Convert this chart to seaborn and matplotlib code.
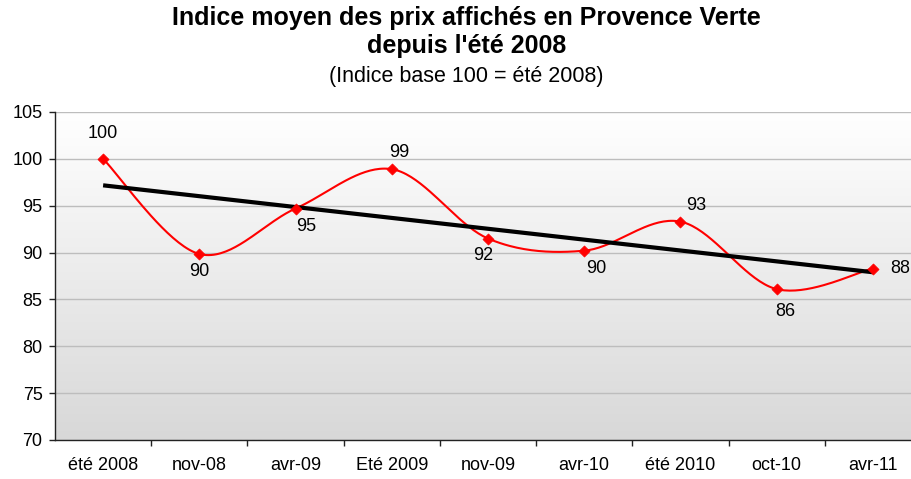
import numpy as np
import pandas as pd
import matplotlib
matplotlib.use("Agg")
import matplotlib.pyplot as plt
import seaborn as sns
from matplotlib.colors import LinearSegmentedColormap
from matplotlib.ticker import FixedLocator

# ---- data ----
categories = ["été 2008", "nov-08", "avr-09", "Eté 2009", "nov-09",
              "avr-10", "été 2010", "oct-10", "avr-11"]
indice = [100.0, 89.85, 94.7, 98.9, 91.5, 90.2, 93.3, 86.1, 88.3]
value_labels = ["100", "90", "95", "99", "92", "90", "93", "86", "88"]
yticks = [70, 75, 80, 85, 90, 95, 100, 105]

# label offsets in pixels (dx, dy up)
label_offsets = [(0, 25), (0, -18), (11, -18), (7, 17), (-5, -17),
                 (12, -18), (16, 16), (9, -22), (27, 0)]

sns.set_theme(style="white")
plt.rcParams['font.family'] = ['Liberation Sans', 'DejaVu Sans']
plt.rcParams['text.color'] = 'black'
plt.rcParams['xtick.color'] = 'black'
plt.rcParams['ytick.color'] = 'black'

fig = plt.figure(figsize=(9.11, 4.79), dpi=100)
ax = fig.add_axes([55 / 911, 39 / 479, 856 / 911, 328 / 479])

x = np.arange(len(categories))
xlim = (-0.5, 8.5 - 10 / 96.3)
ylim = (70, 105)

# background gradient (grey at bottom -> white at top)
cmap = LinearSegmentedColormap.from_list("bg", ["#ffffff", "#d8d8d8"])
grad = np.linspace(1, 0, 256).reshape(-1, 1)
ax.imshow(grad, extent=[xlim[0], xlim[1], ylim[0], ylim[1]], aspect='auto',
          cmap=cmap, zorder=0, origin='lower', vmin=0, vmax=1)


# smoothed line (Bezier / Catmull-Rom as in spreadsheet smoothing)
def smooth_path(xs, ys, n=40):
    P = np.column_stack([xs, ys]).astype(float)
    Pe = np.vstack([P[0], P, P[-1]])
    pts = []
    for i in range(len(P) - 1):
        p0, p1, p2, p3 = Pe[i], Pe[i + 1], Pe[i + 2], Pe[i + 3]
        c1 = p1 + (p2 - p0) / 6.0
        c2 = p2 - (p3 - p1) / 6.0
        t = np.linspace(0, 1, n, endpoint=(i == len(P) - 2))[:, None]
        b = ((1 - t) ** 3) * p1 + 3 * ((1 - t) ** 2) * t * c1 + 3 * (1 - t) * t ** 2 * c2 + t ** 3 * p2
        pts.append(b)
    return np.vstack(pts)


sp = smooth_path(x, indice)
df_s = pd.DataFrame({"x": sp[:, 0], "y": sp[:, 1]})
df = pd.DataFrame({"x": x, "y": indice})

sns.lineplot(data=df_s, x="x", y="y", sort=False, estimator=None, ax=ax,
             color="#ff0000", lw=1.5, zorder=3)
sns.regplot(data=df, x="x", y="y", scatter=False, ci=None, truncate=True, ax=ax,
            line_kws=dict(color="black", lw=3, zorder=4, solid_capstyle='butt'))
sns.scatterplot(data=df, x="x", y="y", ax=ax, marker="D", s=32,
                color="#ff0000", edgecolor="#ff0000", linewidth=0.5, zorder=5)

for xi, yi, lab, (dx, dy) in zip(x, indice, value_labels, label_offsets):
    ax.annotate(lab, (xi, yi), xytext=(dx * 0.72, dy * 0.72), textcoords="offset points",
                ha="center", va="center", fontsize=13, color="black", zorder=6)

ax.set_xlim(*xlim)
ax.set_ylim(*ylim)
ax.set_yticks(yticks)
ax.set_yticklabels([str(v) for v in yticks])
ax.set_xticks(x)
ax.set_xticklabels(categories)
ax.xaxis.set_minor_locator(FixedLocator(np.arange(0.5, 8.0, 1.0)))
ax.set_xlabel("")
ax.set_ylabel("")

ax.grid(False)
for v in yticks:
    ax.axhline(v, color="#bdbdbd", lw=1, zorder=1)

for s in ["top", "right"]:
    ax.spines[s].set_visible(False)
for s in ["left", "bottom"]:
    ax.spines[s].set_visible(True)
    ax.spines[s].set_color("#222222")
    ax.spines[s].set_linewidth(1)
    ax.spines[s].set_zorder(7)

ax.tick_params(axis="y", which="major", direction="out", length=4, width=1,
               color="#222222", labelcolor="black", labelsize=13, pad=5, left=True)
ax.tick_params(axis="x", which="major", length=0, labelsize=13, labelcolor="black",
               pad=12, bottom=True)
ax.tick_params(axis="x", which="minor", direction="out", length=4, width=1,
               color="#222222", bottom=True)

fig.text(0.512, 1 - 18 / 479, "Indice moyen des prix affichés en Provence Verte",
         ha="center", va="center", fontsize=18, fontweight="bold", color="black")
fig.text(0.512, 1 - 46 / 479, "depuis l'été 2008",
         ha="center", va="center", fontsize=18, fontweight="bold", color="black")
fig.text(0.512, 1 - 76 / 479, "(Indice base 100 = été 2008)",
         ha="center", va="center", fontsize=15.5, color="black")

fig.savefig("out.png", dpi=100)
